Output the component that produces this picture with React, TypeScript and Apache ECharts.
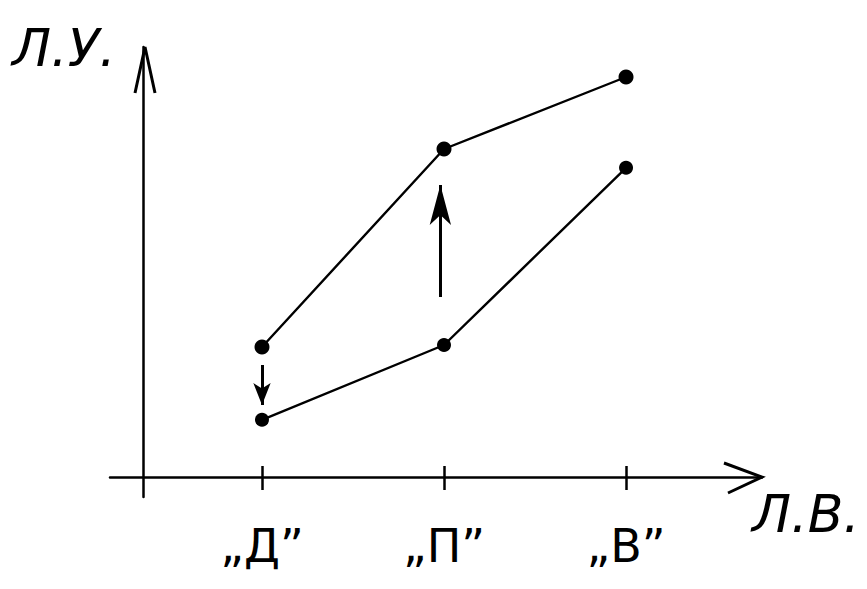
import React, { useEffect, useRef } from "react";
import * as echarts from "echarts";

const categories = ["„Д\u201D", "„П\u201D", "„В\u201D"];
const upperValues = [3.25, 8.2, 10.0];
const lowerValues = [1.43, 3.3, 7.73];
// shift arrows: [category index, from value, to value]
const shiftArrows: [number, number, number][] = [
  [0, 2.8, 1.8],
  [1, 4.5, 7.3],
];
const yAxisTitle = "Л.У.";
const xAxisTitle = "Л.В.";

const FONT = "DejaVu Sans";

export default function App() {
  const ref = useRef<HTMLDivElement>(null);
  useEffect(() => {
    document.body.style.margin = "0";
    const chart = echarts.init(ref.current!, null, { renderer: "svg" });
    const tickVals = categories.map((_, i) => i + 1);
    const xCommon = {
      type: "value" as const,
      min: 0.165,
      max: 3.747,
      splitLine: { show: false },
    };
    chart.setOption({
      animation: false,
      backgroundColor: "#fff",
      grid: { left: 110, right: 105, top: 47, bottom: 92, containLabel: false },
      xAxis: [
        {
          ...xCommon,
          position: "bottom",
          axisLine: { show: true, onZero: true, lineStyle: { color: "#000", width: 2.5 } },
          axisTick: {
            show: true,
            customValues: tickVals,
            length: 13,
            lineStyle: { color: "#000", width: 2.5 },
          },
          axisLabel: {
            show: true,
            customValues: tickVals,
            formatter: (v: number) => categories[Math.round(v) - 1] ?? "",
            margin: 26,
            color: "#000",
            fontSize: 46,
            fontFamily: FONT,
          },
        },
        {
          ...xCommon,
          position: "top",
          offset: -430,
          axisLine: { show: false, onZero: false },
          axisTick: {
            show: true,
            customValues: tickVals,
            length: 11,
            lineStyle: { color: "#000", width: 2.5 },
          },
          axisLabel: { show: false },
        },
      ],
      yAxis: {
        type: "value",
        min: -0.5,
        max: 10.75,
        offset: -33,
        axisLine: { show: true, onZero: false, lineStyle: { color: "#000", width: 2.5 } },
        axisTick: { show: false },
        axisLabel: { show: false },
        splitLine: { show: false },
      },
      series: [
        {
          type: "line",
          data: upperValues.map((v, i) => [i + 1, v]),
          symbol: "circle",
          symbolSize: 15,
          itemStyle: { color: "#000" },
          lineStyle: { color: "#000", width: 2.4 },
        },
        {
          type: "line",
          data: lowerValues.map((v, i) => [i + 1, v]),
          symbol: "circle",
          symbolSize: 14,
          itemStyle: { color: "#000" },
          lineStyle: { color: "#000", width: 2.4 },
          markLine: {
            silent: true,
            symbol: ["none", "arrow"],
            label: { show: false },
            lineStyle: { color: "#000", width: 3, type: "solid" },
            data: shiftArrows.map(([c, from, to]) => [
              { coord: [c + 1 - 0.02 * c, from], symbol: "none" },
              {
                coord: [c + 1 - 0.02 * c, to],
                symbol: "arrow",
                symbolSize: Math.abs(to - from) > 2 ? [16, 40] : [13, 22],
              },
            ]),
          },
        },
      ],
      graphic: [
        {
          type: "polyline",
          shape: { points: [[135, 93], [145, 47], [155, 93]] },
          style: { stroke: "#000", lineWidth: 3, fill: "none" },
        },
        {
          type: "polyline",
          shape: { points: [[724, 463], [762, 477], [728, 493]] },
          style: { stroke: "#000", lineWidth: 3, fill: "none" },
        },
        {
          type: "text",
          left: 12,
          top: 22,
          style: { text: yAxisTitle, fontSize: 52, fontFamily: FONT, fontStyle: "italic", fill: "#000" },
        },
        {
          type: "text",
          left: 752,
          top: 488,
          style: { text: xAxisTitle, fontSize: 52, fontFamily: FONT, fontStyle: "italic", fill: "#000" },
        },
      ],
    });
    return () => chart.dispose();
  }, []);
  return <div ref={ref} style={{ width: 867, height: 589 }} />;
}
